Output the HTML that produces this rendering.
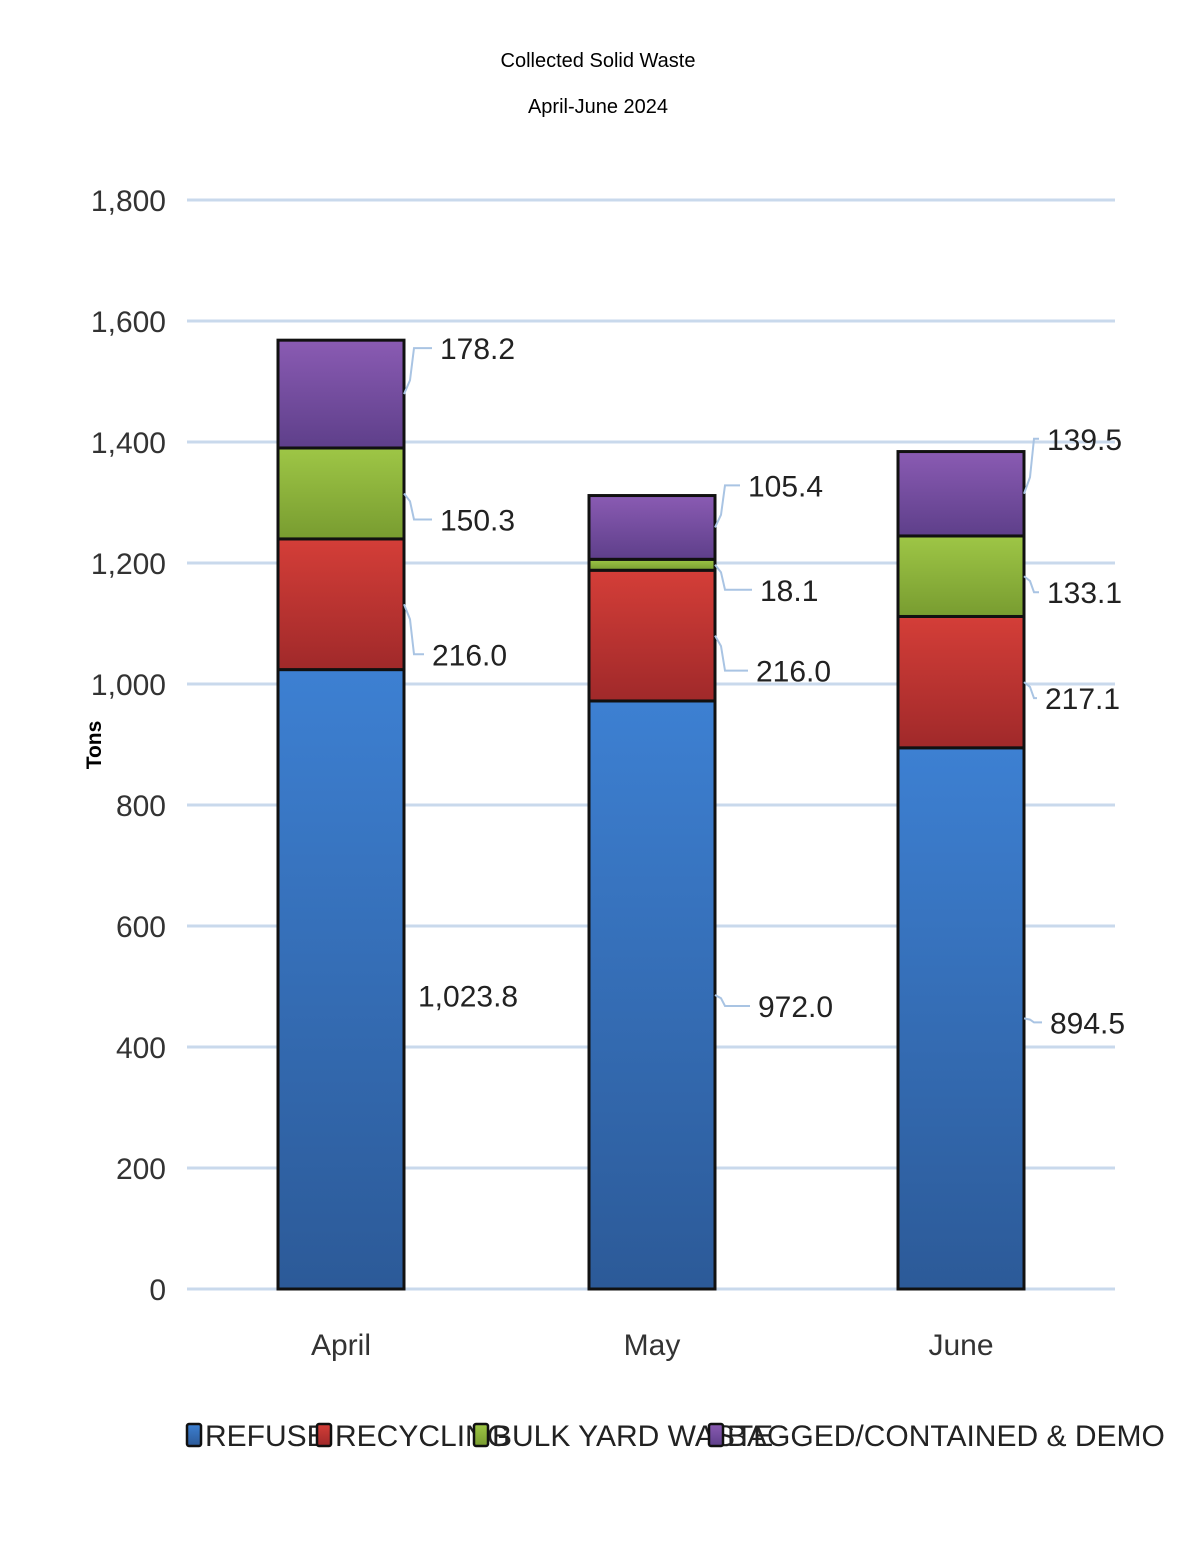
<!DOCTYPE html>
<html><head><meta charset="utf-8"><style>
body{margin:0;background:#fff;}
svg text{font-family:"Liberation Sans Narrow","Liberation Sans",sans-serif;}
</style></head><body>
<svg id="chart" width="1200" height="1553" xmlns="http://www.w3.org/2000/svg">
<defs>
<linearGradient id="g0" x1="0" y1="0" x2="0" y2="1"><stop offset="0" stop-color="#3d80d2"/><stop offset="1" stop-color="#2c5a98"/></linearGradient>
<linearGradient id="g1" x1="0" y1="0" x2="0" y2="1"><stop offset="0" stop-color="#d43e38"/><stop offset="1" stop-color="#a0292a"/></linearGradient>
<linearGradient id="g2" x1="0" y1="0" x2="0" y2="1"><stop offset="0" stop-color="#9ec646"/><stop offset="1" stop-color="#789c30"/></linearGradient>
<linearGradient id="g3" x1="0" y1="0" x2="0" y2="1"><stop offset="0" stop-color="#8a5bb3"/><stop offset="1" stop-color="#5e3f8a"/></linearGradient>
</defs>
<text x="598" y="67" text-anchor="middle" font-size="20" style="font-family:'Liberation Sans',sans-serif">Collected Solid Waste</text>
<text x="598" y="113" text-anchor="middle" font-size="20" style="font-family:'Liberation Sans',sans-serif">April-June 2024</text>
<text transform="translate(101,745) rotate(-90)" text-anchor="middle" font-size="21" font-weight="bold" style="font-family:'Liberation Sans',sans-serif">Tons</text>
<g id="grid"></g><g id="bars"></g><g id="labels"></g><g id="legend"></g>
</svg>
<script>
const categories=["April","May","June"];
const seriesNames=["REFUSE","RECYCLING","BULK YARD WASTE","BAGGED/CONTAINED & DEMO"];
const refuse=[1023.8,972.0,894.5];
const recycling=[216.0,216.0,217.1];
const yardWaste=[150.3,18.1,133.1];
const bagged=[178.2,105.4,139.5];
const yTicks=[0,200,400,600,800,1000,1200,1400,1600,1800];
const yTickLabels=["0","200","400","600","800","1,000","1,200","1,400","1,600","1,800"];
const valueLabels=[["1,023.8","216.0","150.3","178.2"],["972.0","216.0","18.1","105.4"],["894.5","217.1","133.1","139.5"]];
const NS="http://www.w3.org/2000/svg";
const y0=1289,yTop=200,yMax=1800;
function yScale(v){return y0-(v/yMax)*(y0-yTop);}
const barLeft=[278,589,898],barW=126;
function xBar(i){return barLeft[i];}
const labelDy=[[16,50,26,-46],[11,35,25,-42],[4,16,16,-55]];
const labelX=[[418,432,440,440],[758,756,760,748],[1050,1045,1047,1047]];
function mk(tag,attrs,parent){const e=document.createElementNS(NS,tag);for(const k in attrs)e.setAttribute(k,attrs[k]);parent.appendChild(e);return e;}
const grid=document.getElementById('grid');
yTicks.forEach((t,i)=>{
 const l=mk('line',{x1:187,x2:1115,y1:yScale(t),y2:yScale(t),stroke:'#c9d9ec','stroke-width':3},grid);
 
 
 const tx=mk('text',{x:166,y:yScale(t)+11,'text-anchor':'end','font-size':30,fill:'#333'},grid);
 
 
 tx.textContent=yTickLabels[i];
});
const bars=document.getElementById('bars'),labels=document.getElementById('labels');
const series=[refuse,recycling,yardWaste,bagged];
categories.forEach((c,i)=>{
 let base=0;
 series.forEach((s,j)=>{
  const top=base+s[i];
  const r=mk('rect',{x:xBar(i),y:yScale(top),width:barW,height:yScale(base)-yScale(top),fill:'url(#g'+j+')',stroke:'#111','stroke-width':3},bars);
  
  
  const mid=(yScale(base)+yScale(top))/2;
  const ly=mid+labelDy[i][j];
  const lx=labelX[i][j];
  if(!(i===0&&j===0)){
   const ln=mk('polyline',{points:(xBar(i)+barW)+','+mid+' '+(xBar(i)+barW+6)+','+(mid+(ly-mid)*0.3)+' '+(xBar(i)+barW+10)+','+ly+' '+(lx-8)+','+ly,fill:'none',stroke:'#a9c4e3','stroke-width':2},labels);
   
   
  }
  const t=mk('text',{x:lx,y:ly+11,'font-size':30,fill:'#222'},labels);
  
  
  t.textContent=valueLabels[i][j];
  base=top;
 });
 const cl=mk('text',{x:xBar(i)+barW/2,y:1355,'text-anchor':'middle','font-size':30,fill:'#333'},labels);
 
 
 cl.textContent=c;
});
const legend=document.getElementById('legend');
const legX=[187,317,474,709];
seriesNames.forEach((n,j)=>{
 const r=mk('rect',{x:legX[j],y:1424,width:14,height:22,rx:2,fill:'url(#g'+j+')',stroke:'#111','stroke-width':2.5},legend);
 
 
 const t=mk('text',{x:legX[j]+18,y:1446,'font-size':30,fill:'#222'},legend);
 
 
 t.textContent=n;
});
</script>
</body></html>
